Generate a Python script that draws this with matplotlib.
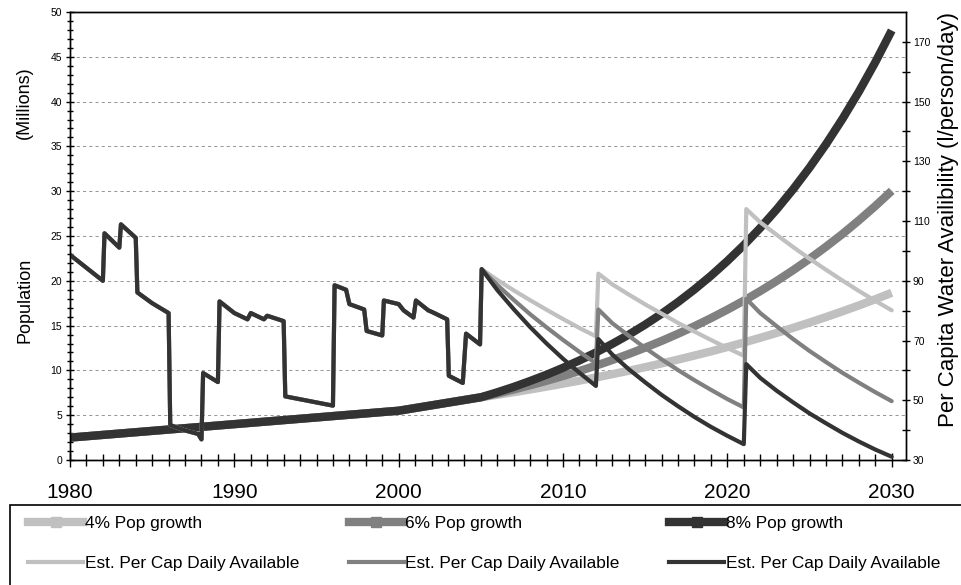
import matplotlib
matplotlib.use("Agg")
import matplotlib.pyplot as plt
from matplotlib.lines import Line2D
from matplotlib.patches import Rectangle
from matplotlib.ticker import MultipleLocator, FixedLocator

plt.rcParams['font.family'] = ['Liberation Sans', 'DejaVu Sans']

LIGHT = '#c0c0c0'
MID = '#808080'
DARK = '#333333'

# Population (millions) - shared history 1980-2005
hist_years = list(range(1980, 2006))
hist_pop = [2.5, 2.65, 2.8, 2.95, 3.1, 3.25, 3.4, 3.55, 3.7, 3.85,
            4.0, 4.15, 4.3, 4.45, 4.6, 4.75, 4.9, 5.05, 5.2, 5.35,
            5.5, 5.8, 6.1, 6.4, 6.7, 7.0]

# Population projections 2006-2030
proj_years = list(range(2006, 2031))
pop_4 = [7.28, 7.57, 7.87, 8.19, 8.52, 8.86, 9.21, 9.58, 9.96, 10.36,
         10.78, 11.21, 11.66, 12.12, 12.61, 13.11, 13.64, 14.18, 14.75, 15.34,
         15.95, 16.59, 17.25, 17.94, 18.66]
pop_6 = [7.42, 7.87, 8.34, 8.84, 9.37, 9.93, 10.53, 11.16, 11.83, 12.54,
         13.29, 14.09, 14.93, 15.83, 16.78, 17.78, 18.85, 19.98, 21.18, 22.45,
         23.80, 25.22, 26.74, 28.34, 30.04]
pop_8 = [7.56, 8.16, 8.82, 9.52, 10.29, 11.11, 12.00, 12.96, 13.99, 15.11,
         16.32, 17.63, 19.04, 20.56, 22.21, 23.98, 25.90, 27.97, 30.21, 32.63,
         35.24, 38.06, 41.10, 44.39, 47.94]

# Per capita water availability (l/person/day) - history
pc_hist_x = [1980.0, 1982.0, 1982.1, 1983.0, 1983.1, 1984.0, 1984.1, 1985.0,
             1986.0, 1986.1, 1987.0, 1987.8, 1988.0, 1988.1, 1989.0, 1989.1,
             1990.0, 1990.8, 1991.0, 1991.8, 1992.0, 1993.0, 1993.1, 1996.0,
             1996.1, 1996.8, 1997.0, 1997.9, 1998.05, 1999.0, 1999.1, 2000.0,
             2000.3, 2000.9, 2001.05, 2001.8, 2002.05, 2002.95, 2003.05, 2003.9,
             2004.1, 2004.95]
pc_hist = [98.7, 90.0, 105.9, 101.1, 108.9, 104.4, 86.1, 82.5,
           79.2, 41.7, 39.9, 38.7, 36.9, 59.1, 56.1, 83.1,
           79.2, 77.1, 79.2, 77.1, 78.3, 76.5, 51.3, 48.2,
           88.5, 87.0, 82.2, 80.4, 73.2, 71.7, 83.4, 82.2,
           80.1, 77.7, 83.4, 80.1, 79.5, 77.1, 58.2, 55.8,
           72.3, 68.7]

# Per capita projections
pc_proj_x = [2005.05, 2006, 2007, 2008, 2009, 2010, 2011, 2012,
             2012.15, 2013, 2014, 2015, 2016, 2017, 2018, 2019, 2020, 2021,
             2021.15, 2022, 2023, 2024, 2025, 2026, 2027, 2028, 2029, 2030]
pc_4 = [93.9, 90.3, 86.8, 83.5, 80.3, 77.2, 74.2, 71.4,
        92.4, 88.8, 85.4, 82.1, 79.0, 75.9, 73.0, 70.2, 67.5, 64.9,
        114.0, 109.6, 105.4, 101.3, 97.4, 93.7, 90.1, 86.6, 83.3, 80.1]
pc_6 = [93.9, 88.6, 83.6, 78.8, 74.4, 70.2, 66.2, 62.4,
        80.4, 75.8, 71.6, 67.5, 63.7, 60.1, 56.7, 53.5, 50.4, 47.6,
        84.0, 79.2, 74.8, 70.5, 66.5, 62.8, 59.2, 55.9, 52.7, 49.7]
pc_8 = [93.9, 86.9, 80.5, 74.5, 69.0, 63.9, 59.2, 54.8,
        70.5, 65.3, 60.4, 56.0, 51.8, 48.0, 44.4, 41.1, 38.1, 35.3,
        62.1, 57.5, 53.2, 49.3, 45.6, 42.3, 39.1, 36.2, 33.5, 31.1]

decade_labels = ['1980', '1990', '2000', '2010', '2020', '2030']

fig = plt.figure(figsize=(9.62, 5.85), dpi=100)
ax = fig.add_axes([70 / 962, 125 / 585, 836 / 962, 448 / 585])

# population lines
for vals, col in [(pop_4, LIGHT), (pop_6, MID), (pop_8, DARK)]:
    ax.plot(hist_years + proj_years, hist_pop + vals, color=col, lw=6,
            solid_capstyle='butt', solid_joinstyle='round')

ax.set_xlim(1980, 2030.87)
ax.set_ylim(0, 50)
ax.yaxis.set_major_locator(MultipleLocator(5))
ax.yaxis.set_minor_locator(MultipleLocator(1))
ax.xaxis.set_major_locator(FixedLocator(range(1980, 2031, 10)))
ax.xaxis.set_minor_locator(FixedLocator(range(1980, 2031)))
ax.set_xticklabels(decade_labels)
ax.tick_params(axis='x', which='major', direction='inout', length=10, width=1,
               pad=11.5, labelsize=15)
ax.tick_params(axis='x', which='minor', direction='inout', length=8, width=1)
ax.tick_params(axis='y', which='major', direction='inout', length=6, width=1,
               pad=2.8, labelsize=7.5)
ax.tick_params(axis='y', which='minor', direction='inout', length=5, width=1)
ax.yaxis.grid(True, which='major', linestyle=(0, (3, 3)), color='#999999', lw=0.75)
ax.set_axisbelow(True)
for sp in ax.spines.values():
    sp.set_linewidth(1.0)

# per capita lines on right axis
ax2 = ax.twinx()
for vals, col in [(pc_4, LIGHT), (pc_6, MID), (pc_8, DARK)]:
    ax2.plot(pc_hist_x + pc_proj_x, pc_hist + vals, color=col, lw=3,
             solid_joinstyle='round', solid_capstyle='round')
ax2.set_ylim(30, 180)
ax2.yaxis.set_major_locator(FixedLocator(range(30, 171, 20)))
ax2.yaxis.set_minor_locator(FixedLocator(range(40, 180, 20)))
ax2.tick_params(axis='y', which='major', direction='inout', length=6, width=1,
                pad=2, labelsize=7.5)
ax2.tick_params(axis='y', which='minor', direction='inout', length=6, width=1)
for sp in ax2.spines.values():
    sp.set_linewidth(1.0)

ax.text(-0.054, 0.357, 'Population', transform=ax.transAxes, rotation=90,
        ha='center', va='center', fontsize=13)
ax.text(-0.054, 0.797, '(Millions)', transform=ax.transAxes, rotation=90,
        ha='center', va='center', fontsize=13)
ax.text(1.0514, 0.536, 'Per Capita Water Availibility (l/person/day)',
        transform=ax.transAxes, rotation=90, ha='center', va='center', fontsize=16)

# legend
handles = [
    Line2D([], [], color=LIGHT, lw=6, marker='s', markersize=7),
    Line2D([], [], color=LIGHT, lw=3),
    Line2D([], [], color=MID, lw=6, marker='s', markersize=7),
    Line2D([], [], color=MID, lw=3),
    Line2D([], [], color=DARK, lw=6, marker='s', markersize=7),
    Line2D([], [], color=DARK, lw=3),
]
labels = ['4% Pop growth', 'Est. Per Cap Daily Available',
          '6% Pop growth', 'Est. Per Cap Daily Available',
          '8% Pop growth', 'Est. Per Cap Daily Available']
fig.legend(handles, labels, loc='upper left', bbox_to_anchor=(28 / 962, (585 - 516) / 585),
           ncol=3, frameon=False, fontsize=12.4, borderaxespad=0, borderpad=0,
           handlelength=3.2, handletextpad=0.1, columnspacing=2.87, labelspacing=1.45,
           numpoints=1)
fig.patches.append(Rectangle((10 / 962, -0.05), 1.0, (585 - 505) / 585 + 0.05,
                             transform=fig.transFigure, fill=False,
                             edgecolor='black', lw=1.2))

fig.savefig('out.png', dpi=100)
